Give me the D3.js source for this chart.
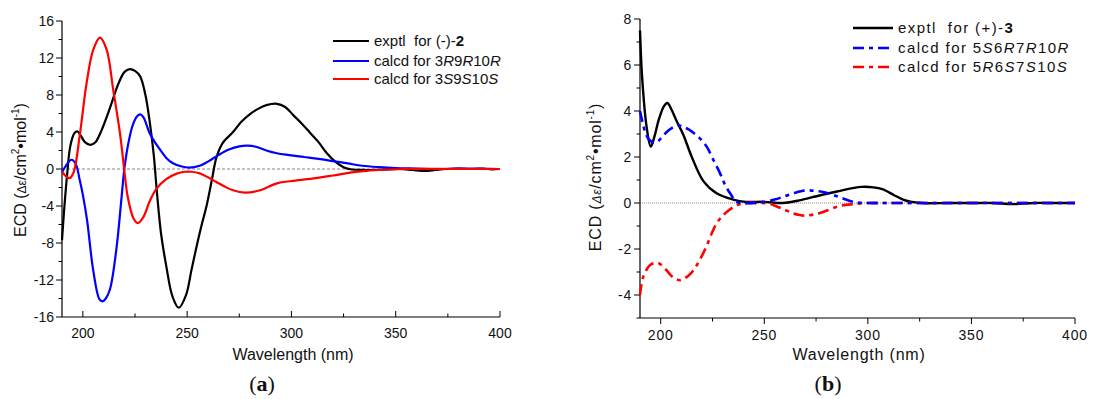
<!DOCTYPE html>
<html>
<head>
<meta charset="utf-8">
<script src="https://cdn.jsdelivr.net/npm/d3@7"></script>
<style>
  body { margin: 0; background: #fff; }
  svg { display: block; font-family: "Liberation Sans", Arial, sans-serif; }
</style>
</head>
<body>
<svg id="chart" width="1097" height="399"></svg>
<script>
// ---- panel (a): [wavelength nm, delta epsilon] ----
const exptl2 = [[190,-7.7],[191,-4.5],[192.5,-0.5],[194,2.5],[196,3.9],[197.5,4.05],[199,3.6],[201,2.9],[203.5,2.6],[206,2.9],[209,4.2],[213,6.6],[217,9.2],[220,10.5],[222.5,10.8],[225,10.6],[227.5,10],[230,8],[232,5.2],[234,1.5],[235.5,-2.5],[237.5,-7],[240,-10.5],[243,-13.8],[246,-15],[249.5,-13.6],[252,-11],[254.5,-8.4],[257,-6],[259.3,-4],[262,-1],[264,1.2],[267,2.8],[272,4],[276,5.1],[280,5.9],[284,6.5],[288,6.9],[293,7.05],[297,6.7],[301,5.8],[305,4.9],[309,3.9],[313,2.9],[317,1.7],[321,0.8],[325,0.2],[329,-0.05],[334,-0.1],[340,-0.1],[346,-0.05],[352,0],[358,-0.1],[364,-0.2],[369,-0.1],[374,0],[380,0.05],[386,0],[392,0.05],[396,-0.05],[400,0]]
const calcd3R = [[190,-0.35],[192,0.4],[194.5,1.0],[196.5,0.6],[198.5,-1.2],[200,-2.8],[202,-5.5],[205,-11],[208,-14.1],[209.5,-14.3],[211,-14],[213,-13],[216,-8.8],[218.5,-3.2],[220,0.2],[222,3],[224,4.8],[226,5.7],[227.5,5.9],[229,5.6],[232,3.9],[234.5,2.9],[237,2.1],[240,1.2],[243,0.65],[247,0.3],[251,0.15],[256,0.35],[260,0.8],[265,1.5],[270,2.1],[275,2.45],[279,2.52],[283,2.4],[288,2.0],[293,1.7],[299,1.5],[306,1.3],[313,1.1],[320,0.85],[327,0.6],[334,0.35],[342,0.2],[350,0.1],[360,0.05],[370,0],[380,0.05],[386,0.05],[392,0.02],[400,0]]
const calcd3S = [[190,-0.3],[191.5,-0.7],[193.5,-1.0],[195.5,-0.4],[198.6,3.8],[201.8,9.3],[205,12.9],[208.2,14.2],[211.4,12.9],[214.6,8.5],[217.8,3.85],[220.2,-0.8],[221.5,-3],[224.2,-5.3],[226.3,-5.85],[229,-5.2],[232.2,-3.4],[235.4,-2.1],[240,-1.1],[245,-0.5],[249,-0.3],[252,-0.3],[256,-0.47],[260,-0.9],[264,-1.4],[268,-1.9],[272,-2.3],[277.7,-2.56],[285,-2.3],[293,-1.55],[300,-1.3],[310,-1.05],[320,-0.7],[328,-0.4],[336,-0.2],[345,-0.08],[355,0],[365,0.02],[375,0],[385,0],[400,0]]

// ---- panel (b) ----
const exptl3 = [[190,7.5],[191,5.5],[193.2,3.3],[195.2,2.45],[197,2.9],[199,3.6],[201.5,4.2],[203.2,4.35],[205,4.1],[207.5,3.6],[211,2.95],[215,2.0],[220.6,0.95],[227,0.42],[235,0.15],[241,0.05],[250,0.05],[259,0],[266,0.1],[274,0.27],[285,0.5],[297,0.7],[302.7,0.68],[307,0.6],[312.5,0.35],[317,0.15],[320.5,0.06],[326,0],[340,0],[350,0],[360,0],[370,-0.05],[380,0],[390,0],[400,0]]
const calcd5S = [[190,4.0],[191.5,3.4],[193,2.95],[195,2.7],[197.5,2.62],[200,2.8],[203,3.1],[206,3.3],[208.5,3.38],[211,3.3],[213.5,3.2],[215.8,3.05],[219,2.8],[222.2,2.45],[225,1.95],[228.6,1.3],[231,0.8],[233.5,0.42],[236.7,0.05],[240,0],[245,0],[250,0.05],[255,0.15],[260,0.3],[265,0.45],[270.5,0.55],[275,0.52],[280,0.45],[284,0.33],[288,0.2],[293,0.05],[300,0],[310,0],[400,0]]
const calcd5R = [[190,-4],[191.6,-3.2],[194.9,-2.7],[198.5,-2.6],[202.6,-2.9],[205.5,-3.2],[208.7,-3.35],[211,-3.3],[213.5,-3.15],[216,-2.9],[219,-2.45],[222,-1.9],[224.5,-1.35],[227,-0.88],[229.5,-0.6],[232,-0.38],[236.8,-0.09],[241.5,0],[246,0],[252,-0.02],[256,-0.15],[260,-0.3],[264,-0.45],[267,-0.52],[270,-0.55],[273.7,-0.5],[278,-0.4],[283,-0.23],[288,-0.1],[293,-0.05],[300,0],[310,0],[400,0]]

const xTicks = [200, 250, 300, 350, 400]
const xMinor = [225, 275, 325, 375]
const yTicksA = [-16, -12, -8, -4, 0, 4, 8, 12, 16]
const yMinorA = [-14, -10, -6, -2, 2, 6, 10, 14]
const yTicksB = [-4, -2, 0, 2, 4, 6, 8]
const yMinorB = [-5, -3, -1, 1, 3, 5, 7]

const svg = d3.select("#chart")

function drawPanel(p) {
    const x = d3.scaleLinear().domain([190, 400]).range(p.xRange)
    const y = d3.scaleLinear().domain(p.yDomain).range(p.yRange)
    const g = svg.append("g").attr("letter-spacing", p.spacing)
    const x0 = p.xRange[0], x1 = p.xRange[1], yb = p.yRange[0]

    // zero line
    g.append("line")
        .attr("x1", x0).attr("x2", x1)
        .attr("y1", y(0)).attr("y2", y(0))
        .attr("stroke", "#666").attr("stroke-width", 0.8)
        .attr("stroke-dasharray", p.zeroDash)

    // axes
    const dir = p.xTickDir
    g.append("line").attr("x1", x0).attr("x2", x1).attr("y1", yb).attr("y2", yb)
        .attr("stroke", "#000").attr("stroke-width", 1.2)
    g.append("line").attr("x1", x0).attr("x2", x0).attr("y1", yb).attr("y2", p.yRange[1])
        .attr("stroke", "#000").attr("stroke-width", 1.2)
    g.selectAll(".xt").data(xTicks).join("line")
        .attr("x1", d => x(d)).attr("x2", d => x(d))
        .attr("y1", yb).attr("y2", yb + dir * 6)
        .attr("stroke", "#000")
    g.selectAll(".xm").data(xMinor).join("line")
        .attr("x1", d => x(d)).attr("x2", d => x(d))
        .attr("y1", yb).attr("y2", yb + dir * 3.5)
        .attr("stroke", "#000")
    g.selectAll(".yt").data(p.yTicks).join("line")
        .attr("x1", x0 - 6).attr("x2", x0)
        .attr("y1", d => y(d)).attr("y2", d => y(d))
        .attr("stroke", "#000")
    g.selectAll(".ym").data(p.yMinor).join("line")
        .attr("x1", x0 - 3.5).attr("x2", x0)
        .attr("y1", d => y(d)).attr("y2", d => y(d))
        .attr("stroke", "#000")

    g.selectAll(".xl").data(xTicks).join("text")
        .attr("x", d => x(d)).attr("y", p.xLabelY)
        .attr("text-anchor", "middle").attr("font-size", 14).attr("fill", "#111")
        .text(d => d)
    g.selectAll(".yl").data(p.yTicks).join("text")
        .attr("x", x0 - 8).attr("y", d => y(d) + 5)
        .attr("text-anchor", "end").attr("font-size", 14).attr("fill", "#111")
        .text(d => d)

    g.append("text").attr("x", p.titleX).attr("y", 360)
        .attr("text-anchor", "middle").attr("font-size", 16).attr("fill", "#111")
        .text("Wavelength (nm)")

    const yl = g.append("text")
        .attr("transform", `translate(${p.yLabel[0]},${p.yLabel[1]}) rotate(-90)`)
        .attr("text-anchor", "middle").attr("font-size", 16).attr("fill", "#111")
    yl.append("tspan").text("ECD (")
    yl.append("tspan").attr("font-size", 12).attr("font-style", p.epsStyle).text("\u0394\u03b5")
    yl.append("tspan").text("/cm")
    yl.append("tspan").attr("font-size", 10).attr("dy", -7).text("2")
    yl.append("tspan").attr("dy", 7).text("\u2022mol")
    yl.append("tspan").attr("font-size", 10).attr("dy", -7).text("-1")
    yl.append("tspan").attr("dy", 7).text(")")

    // curves
    const line = d3.line().x(d => x(d[0])).y(d => y(d[1])).curve(d3.curveCatmullRom.alpha(0.5))
    p.series.forEach(s => {
        g.append("path").datum(s.data)
            .attr("d", line)
            .attr("fill", "none")
            .attr("stroke", s.color)
            .attr("stroke-width", s.width)
            .attr("stroke-dasharray", s.dash)
            .attr("stroke-linejoin", "round")
    })

    // legend
    p.legend.forEach((s, i) => {
        const ly = p.legendY[i]
        g.append("line")
            .attr("x1", p.legendX[0]).attr("x2", p.legendX[1])
            .attr("y1", ly).attr("y2", ly)
            .attr("stroke", s.color).attr("stroke-width", s.width)
            .attr("stroke-dasharray", s.dash)
        const t = g.append("text").attr("x", p.legendX[1] + 5).attr("y", ly + 5)
            .attr("font-size", 15).attr("fill", "#111")
            .attr("letter-spacing", p.legendSpacing)
        s.label.forEach(part => {
            t.append("tspan")
                .attr("font-style", part[1] === "i" ? "italic" : null)
                .attr("font-weight", part[1] === "b" ? "bold" : null)
                .text(part[0])
        })
    })

    const lab = svg.append("text").attr("x", p.tag[0]).attr("y", 391)
        .attr("text-anchor", "middle").attr("font-size", 22)
        .attr("font-family", "'Liberation Serif', 'DejaVu Serif', serif").attr("fill", "#111")
    lab.append("tspan").text("(")
    lab.append("tspan").attr("font-weight", "bold").text(p.tag[1])
    lab.append("tspan").text(")")
}

const dashDot = "11,5,4,5"

const seriesA = [
    { data: exptl2, color: "#000", width: 2.2, dash: null,
      label: [["exptl\u00a0 for (-)-"], ["2", "b"]] },
    { data: calcd3R, color: "#0000ff", width: 2.2, dash: null,
      label: [["calcd for 3"], ["R", "i"], ["9"], ["R", "i"], ["10"], ["R", "i"]] },
    { data: calcd3S, color: "#ff0000", width: 2.2, dash: null,
      label: [["calcd for 3"], ["S", "i"], ["9"], ["S", "i"], ["10"], ["S", "i"]] }
]

const seriesB = [
    { data: exptl3, color: "#000", width: 2.4, dash: null,
      label: [["exptl\u00a0 for (+)-"], ["3", "b"]] },
    { data: calcd5S, color: "#0000ff", width: 2.6, dash: dashDot,
      label: [["calcd for 5"], ["S", "i"], ["6"], ["R", "i"], ["7"], ["R", "i"], ["10"], ["R", "i"]] },
    { data: calcd5R, color: "#ff0000", width: 2.6, dash: dashDot,
      label: [["calcd for 5"], ["R", "i"], ["6"], ["S", "i"], ["7"], ["S", "i"], ["10"], ["S", "i"]] }
]

drawPanel({
    xRange: [62, 500], yDomain: [-16, 16], yRange: [317, 21],
    yTicks: yTicksA, yMinor: yMinorA, xTickDir: -1, xLabelY: 338,
    zeroDash: "3,2", spacing: 0, legendSpacing: 0, epsStyle: null,
    titleX: 293, yLabel: [26, 170], tag: [262, "a"],
    series: seriesA, legend: seriesA,
    legendX: [333, 369], legendY: [41, 61, 79]
})

drawPanel({
    xRange: [640, 1075], yDomain: [-5, 8], yRange: [318, 19],
    yTicks: yTicksB, yMinor: yMinorB, xTickDir: 1, xLabelY: 340,
    zeroDash: "1,1", spacing: 0.8, legendSpacing: 1.4, epsStyle: "italic",
    titleX: 859, yLabel: [601, 177], tag: [828, "b"],
    series: [seriesB[0], seriesB[2], seriesB[1]], legend: seriesB,
    legendX: [853, 893], legendY: [28, 48, 67]
})
</script>
</body>
</html>
